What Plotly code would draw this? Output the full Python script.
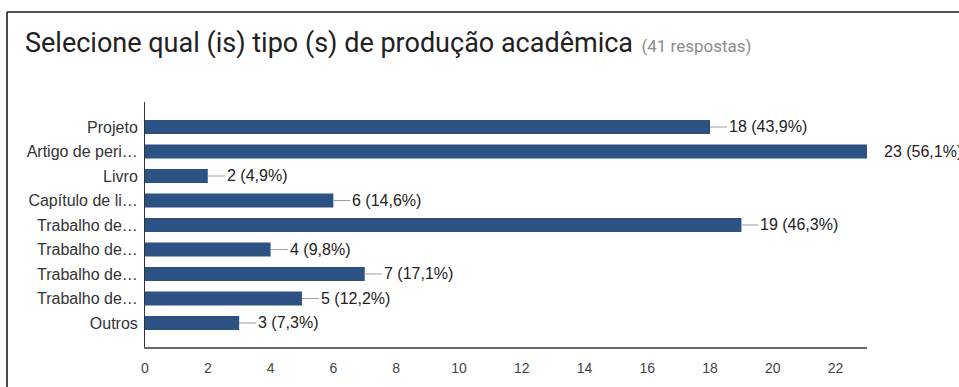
import plotly.graph_objects as go

# Survey answers (41 respostas)
categories = [
    "Projeto",
    "Artigo de peri…",
    "Livro",
    "Capítulo de li…",
    "Trabalho de…",
    "Trabalho de…",
    "Trabalho de…",
    "Trabalho de…",
    "Outros",
]
counts = [18, 23, 2, 6, 19, 4, 7, 5, 3]
percents = ["43,9%", "56,1%", "4,9%", "14,6%", "46,3%", "9,8%", "17,1%", "12,2%", "7,3%"]
x_ticks = [0, 2, 4, 6, 8, 10, 12, 14, 16, 18, 20, 22]

W, H = 959, 387
ML, MR, MT, MB = 145, 92, 102, 40
plot_w = W - ML - MR
plot_h = H - MT - MB

BAR = "#2b5282"
positions = list(range(len(categories)))

fig = go.Figure(
    go.Bar(
        x=counts,
        y=positions,
        orientation="h",
        marker=dict(color=BAR, line=dict(width=0)),
        width=0.58,
        hoverinfo="skip",
    )
)

shapes = []
annotations = []
x_max = max(counts)
for i, (c, p) in enumerate(zip(counts, percents)):
    label = f"{c} ({p})"
    if c < x_max:
        # short leader line from the bar end to the value label
        shapes.append(dict(
            type="line", xref="x", yref="y", xsizemode="pixel", xanchor=c,
            x0=0, x1=17, y0=i, y1=i, line=dict(color="#9e9e9e", width=1),
        ))
        shift = 17
    else:
        shift = 15
    annotations.append(dict(
        x=c, y=i, xref="x", yref="y", text=label, showarrow=False,
        xanchor="left", yanchor="middle", xshift=shift,
        font=dict(family="Liberation Sans, Arial", size=16, color="#222222"),
    ))

# card border: left and top edges
bx = (7 - ML) / plot_w
by = (H - 12 - MB) / plot_h
shapes.append(dict(type="line", xref="paper", yref="paper",
                   x0=bx, x1=bx, y0=-0.5, y1=by,
                   line=dict(color="#1a1a1a", width=1.6)))
shapes.append(dict(type="line", xref="paper", yref="paper",
                   x0=bx, x1=1.5, y0=by, y1=by,
                   line=dict(color="#1a1a1a", width=1.6)))

fig.update_layout(
    width=W, height=H,
    margin=dict(l=ML, r=MR, t=MT, b=MB, pad=0),
    paper_bgcolor="white", plot_bgcolor="white",
    showlegend=False,
    title=dict(
        text=("Selecione qual (is) tipo (s) de produção acadêmica"
              "<span style='font-size:17px;color:#8c8c8c'>  (41 respostas)</span>"),
        x=25 / W, xref="container", xanchor="left",
        y=1 - 43 / H, yref="container", yanchor="middle",
        font=dict(family="Roboto", size=27, color="#212121"),
    ),
    shapes=shapes,
    annotations=annotations,
    xaxis=dict(
        range=[0, 23], tickvals=x_ticks, showgrid=False, zeroline=False,
        showline=True, linecolor="#6a6a6a", linewidth=2,
        ticks="", ticklabelstandoff=7,
        tickfont=dict(family="Liberation Sans, Arial", size=14, color="#444444"),
        fixedrange=True,
    ),
    yaxis=dict(
        range=[8.98, -1.02], tickvals=positions, ticktext=categories,
        showgrid=False, zeroline=False,
        showline=True, linecolor="#333333", linewidth=1,
        ticks="", ticklabelstandoff=3,
        tickfont=dict(family="Liberation Sans, Arial", size=16, color="#333333"),
        fixedrange=True,
    ),
)

fig.write_html("out.html")
